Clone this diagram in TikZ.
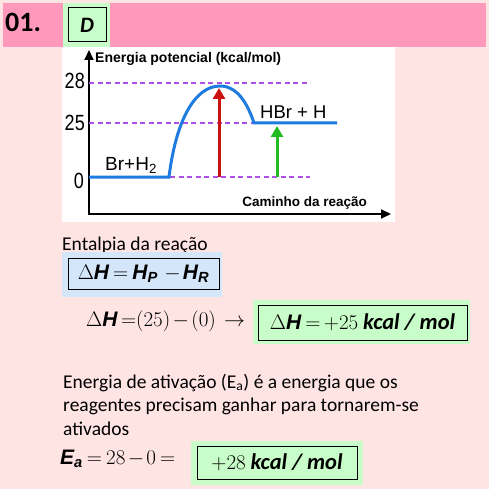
\RequirePackage{fix-cm}
\documentclass[tikz,border=0pt]{standalone}
\usepackage{amsmath}
\usepackage[no-math]{fontspec}
\setmainfont{Carlito}
\setsansfont{Liberation Sans}
\newfontfamily\numfont[FakeStretch=0.82]{Liberation Sans}
\usetikzlibrary{positioning, arrows.meta}
\definecolor{Fundo}{HTML}{FFE4E4}
\definecolor{Faixa}{HTML}{FF99BB}
\definecolor{Verde}{HTML}{C8FCC8}
\definecolor{Azul}{HTML}{D4E6FA}
\definecolor{Curva}{HTML}{1E7BE0}
\definecolor{Roxo}{HTML}{B050E8}
\definecolor{Vermelho}{HTML}{CC1111}
\definecolor{VerdeSeta}{HTML}{22BB22}
\newcommand{\bsi}[1]{\text{\sffamily\bfseries\itshape #1}}
\newcommand{\unidade}{{\fontsize{22.5}{24}\selectfont\bfseries\itshape kcal / mol}}
\newcommand{\apertado}{\thickmuskip=3.5mu\relax\medmuskip=2mu\relax}
\tikzset{
    moldura/.style={draw=black, line width=1pt, inner sep=0pt},
    eixo/.style={line width=2pt, -{Triangle[length=10pt, width=9pt]}},
    nivel/.style={Roxo, line width=1.2pt, dash pattern=on 5pt off 3.5pt},
    curva/.style={Curva, line width=3pt},
    seta/.style={line width=3pt, -{Triangle[length=11pt, width=12pt]}},
    rotulo/.style={inner sep=0pt, font=\sffamily\fontsize{19}{22}\selectfont},
    numero/.style={inner sep=0pt, anchor=base east, font=\numfont\fontsize{22}{24}\selectfont},
    texto/.style={inner sep=0pt, anchor=base west, align=left, font=\fontsize{19.5}{23.5}\selectfont},
    formula/.style={font=\fontsize{21}{24}\selectfont\apertado},
}

\begin{document}
\begin{tikzpicture}[x=1pt, y=-1pt]
    % --- Fundo ---
    \fill[Fundo] (0,0) rectangle (489,489);
    \useasboundingbox (0,0) rectangle (489,489);

    % --- Faixa do titulo ---
    \fill[Faixa] (3,3) rectangle (486,47);
    \node[anchor=base west, inner sep=0pt, font=\bfseries\fontsize{28}{30}\selectfont] (questao) at (5,32) {01.};
    \fill[Verde] (63,3) rectangle (110,47);
    \node[moldura, minimum width=38pt, minimum height=34pt, font=\bfseries\itshape\fontsize{22}{24}\selectfont] (letra) at (87,25) {D};

    % --- Grafico ---
    \fill[white] (62,47) rectangle (395,222);

    \coordinate (origem) at (89,215);
    \coordinate (topo) at (89,50);
    \coordinate (fim) at (391,214);
    \draw[eixo] (origem) -- (topo);
    \draw[eixo] ([xshift=-1pt]origem|-fim) -- (fim);

    % Niveis de energia
    \draw[nivel] (89,83) -- (310,83);
    \draw[nivel] (89,123) -- (310,123);
    \draw[nivel] (170,177) -- (310,177);

    \node[numero] (n28) at (85,89) {28};
    \node[numero] (n25) at (85,131) {25};
    \node[numero] (n0) at (84,188) {0};

    % Caminho da reacao
    \draw[curva] (89,177) -- (169,177)
        .. controls (176,120) and (195,86) .. (220,86)
        .. controls (238,86) and (248,105) .. (254,123) -- (337,123);

    % Setas
    \coordinate (ativ0) at (219,177);
    \coordinate (ativ28) at (219,88);
    \coordinate (delta0) at (277,177);
    \coordinate (delta25) at (277,126);
    \draw[seta, Vermelho] (ativ0) -- (ativ28);
    \draw[seta, VerdeSeta] (delta0) -- (delta25);

    \node[rotulo, anchor=base west, font=\sffamily\bfseries\fontsize{14}{16}\selectfont] (eixoy) at (95,62.5) {Energia potencial (kcal/mol)};
    \node[rotulo, anchor=base west] (reag) at (105,170.5) {Br+H\textsubscript{2}};
    \node[rotulo, anchor=base west, font=\sffamily\fontsize{18.5}{22}\selectfont] (prod) at (260,118.3) {HBr + H};
    \node[rotulo, anchor=base east, font=\sffamily\bfseries\fontsize{13.5}{16}\selectfont] (eixox) at (367,206.5) {Caminho da reação};

    % --- Entalpia ---
    \node[texto] (entalpia) at (62,250) {Entalpia da reação};
    \fill[Azul] (62,252) rectangle (222,297);
    \node[moldura, formula, minimum width=151pt, minimum height=31pt] (defdh) at (143.5,273.5)
        {$\Delta\bsi{H} = \bsi{H}_{\bsi{P}}\; - \bsi{H}_{\bsi{R}}$};
    \node[formula, anchor=west, inner sep=0pt] (contadh) at (86,321)
        {$\Delta\bsi{H}\,{=}(25)-(0)\;\rightarrow$};
    \fill[Verde] (253,300) rectangle (470,344);
    \node[moldura, formula, minimum width=209pt, minimum height=35pt] (respdh) at (362.5,322.5)
        {$\Delta\bsi{H}\;{=}\,{+}25$~\unidade};

    % --- Energia de ativacao ---
    \node[texto] (ativacao) at (63,435)
        {Energia de ativação (E\textsubscript{a}) é a energia que os\\
         reagentes precisam ganhar para tornarem-se\\
         ativados};
    \node[formula, anchor=west, inner sep=0pt] (contaea) at (60,459)
        {$\bsi{E}_{\bsi{a}} = 28 - 0 =$};
    \fill[Verde] (191,441) rectangle (363,485);
    \node[moldura, formula, minimum width=160pt, minimum height=33pt] (respea) at (277,462.5)
        {$+28$~\unidade};
\end{tikzpicture}
\end{document}
